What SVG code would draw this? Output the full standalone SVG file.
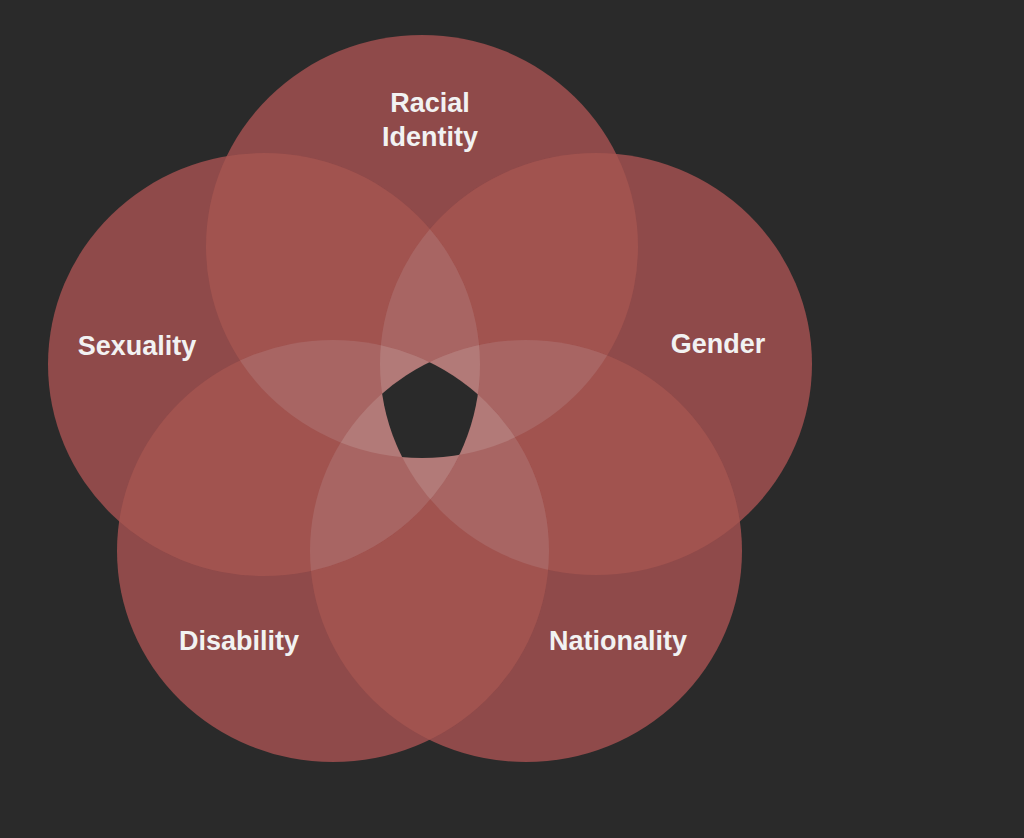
<svg xmlns="http://www.w3.org/2000/svg" width="1024" height="838" viewBox="0 0 1024 838">
<style>
.l1{fill:#8f4a4a}
.l2{fill:#a1534f}
.l3{fill:#a86563}
.l4{fill:#b27a78}
.l5{fill:#2a2a2a}
.lbl{font-family:"Liberation Sans",Arial,Helvetica,sans-serif;font-weight:bold;font-size:27px;fill:#f2f2f2;text-anchor:middle}
</style>
<defs>
<ellipse id="e1" cx="422" cy="246.5" rx="216" ry="211.5"/>
<ellipse id="e2" cx="596" cy="364" rx="216" ry="211"/>
<ellipse id="e3" cx="526" cy="551" rx="216" ry="211"/>
<ellipse id="e4" cx="333" cy="551" rx="216" ry="211"/>
<ellipse id="e5" cx="264" cy="364.5" rx="216" ry="211.5"/>
<clipPath id="k1"><use href="#e1"/></clipPath>
<clipPath id="k2"><use href="#e2"/></clipPath>
<clipPath id="k3"><use href="#e3"/></clipPath>
<clipPath id="k4"><use href="#e4"/></clipPath>
<clipPath id="k5"><use href="#e5"/></clipPath>
</defs>
<rect width="1024" height="838" fill="#2a2a2a"/>
<g id="racial-identity"><use href="#e1" class="l1"/><text class="lbl" x="430" y="112">Racial</text><text class="lbl" x="430" y="146">Identity</text></g>
<g id="gender"><use href="#e2" class="l1"/><text class="lbl" x="718" y="353">Gender</text></g>
<g id="nationality"><use href="#e3" class="l1"/><text class="lbl" x="618" y="650">Nationality</text></g>
<g id="disability"><use href="#e4" class="l1"/><text class="lbl" x="239" y="650">Disability</text></g>
<g id="sexuality"><use href="#e5" class="l1"/><text class="lbl" x="137" y="355">Sexuality</text></g>
<g id="overlaps">
<g id="pairs">
<g clip-path="url(#k1)"><use href="#e2" class="l2"/></g>
<g clip-path="url(#k1)"><use href="#e3" class="l2"/></g>
<g clip-path="url(#k1)"><use href="#e4" class="l2"/></g>
<g clip-path="url(#k1)"><use href="#e5" class="l2"/></g>
<g clip-path="url(#k2)"><use href="#e3" class="l2"/></g>
<g clip-path="url(#k2)"><use href="#e4" class="l2"/></g>
<g clip-path="url(#k2)"><use href="#e5" class="l2"/></g>
<g clip-path="url(#k3)"><use href="#e4" class="l2"/></g>
<g clip-path="url(#k3)"><use href="#e5" class="l2"/></g>
<g clip-path="url(#k4)"><use href="#e5" class="l2"/></g>
</g>
<g id="triples">
<g clip-path="url(#k1)"><g clip-path="url(#k2)"><use href="#e3" class="l3"/></g></g>
<g clip-path="url(#k1)"><g clip-path="url(#k2)"><use href="#e4" class="l3"/></g></g>
<g clip-path="url(#k1)"><g clip-path="url(#k2)"><use href="#e5" class="l3"/></g></g>
<g clip-path="url(#k1)"><g clip-path="url(#k3)"><use href="#e4" class="l3"/></g></g>
<g clip-path="url(#k1)"><g clip-path="url(#k3)"><use href="#e5" class="l3"/></g></g>
<g clip-path="url(#k1)"><g clip-path="url(#k4)"><use href="#e5" class="l3"/></g></g>
<g clip-path="url(#k2)"><g clip-path="url(#k3)"><use href="#e4" class="l3"/></g></g>
<g clip-path="url(#k2)"><g clip-path="url(#k3)"><use href="#e5" class="l3"/></g></g>
<g clip-path="url(#k2)"><g clip-path="url(#k4)"><use href="#e5" class="l3"/></g></g>
<g clip-path="url(#k3)"><g clip-path="url(#k4)"><use href="#e5" class="l3"/></g></g>
</g>
<g id="quads">
<g clip-path="url(#k1)"><g clip-path="url(#k2)"><g clip-path="url(#k3)"><use href="#e4" class="l4"/></g></g></g>
<g clip-path="url(#k1)"><g clip-path="url(#k2)"><g clip-path="url(#k3)"><use href="#e5" class="l4"/></g></g></g>
<g clip-path="url(#k1)"><g clip-path="url(#k2)"><g clip-path="url(#k4)"><use href="#e5" class="l4"/></g></g></g>
<g clip-path="url(#k1)"><g clip-path="url(#k3)"><g clip-path="url(#k4)"><use href="#e5" class="l4"/></g></g></g>
<g clip-path="url(#k2)"><g clip-path="url(#k3)"><g clip-path="url(#k4)"><use href="#e5" class="l4"/></g></g></g>
</g>
<g id="center">
<g clip-path="url(#k1)"><g clip-path="url(#k2)"><g clip-path="url(#k3)"><g clip-path="url(#k4)"><use href="#e5" class="l5"/></g></g></g></g>
</g>
</g>
</svg>
